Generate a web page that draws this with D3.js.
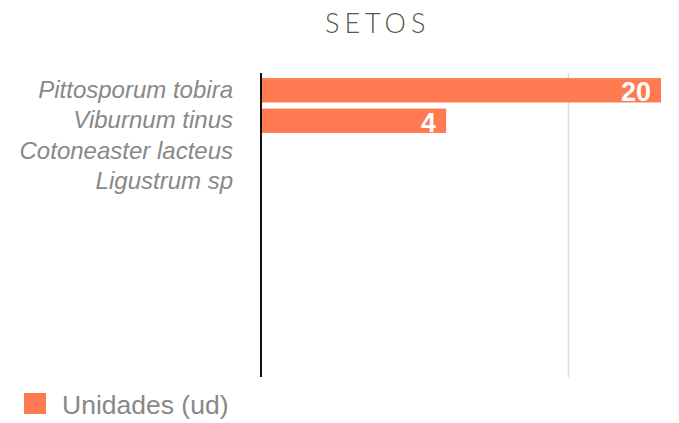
<!DOCTYPE html>
<html>
<head>
<meta charset="utf-8">
<script src="https://cdn.jsdelivr.net/npm/d3@7"></script>
<style>
  body { margin: 0; background: #fff; }
  svg { display: block; }
</style>
</head>
<body>
<svg id="chart"></svg>
<script>
// datos
const species = ['Pittosporum tobira', 'Viburnum tinus', 'Cotoneaster lacteus', 'Ligustrum sp'];
const units = [20, 4, null, null];
const gridTicks = [10];
const seriesName = 'Unidades (ud)';

const width = 679;
const height = 423;
const margin = { top: 73, right: 18, bottom: 46, left: 261 };
const barColor = '#ff7a50';

const svg = d3.select('#chart')
  .attr('width', width)
  .attr('height', height);

// titulo
svg.append('text')
  .attr('x', 325)
  .attr('y', 33)
  .attr('font-family', 'Lato, sans-serif')
  .attr('font-weight', 300)
  .attr('font-size', '27px')
  .attr('letter-spacing', '5px')
  .attr('fill', '#5e5546')
  .text('SETOS');

// escalas (log)
const x = d3.scaleLog()
  .domain([1, 20])
  .range([margin.left, 661]);

const y = d3.scaleBand()
  .domain(species)
  .range([72, 200])
  .padding(0.2);

const plotBottom = height - margin.bottom;

// rejilla
svg.append('g')
  .selectAll('line')
  .data(gridTicks)
  .join('line')
  .attr('x1', d => x(d))
  .attr('x2', d => x(d))
  .attr('y1', margin.top)
  .attr('y2', plotBottom)
  .attr('stroke', '#dcdcdc')
  .attr('stroke-width', 1.5);

// barras
const rows = species.map((s, i) => ({ name: s, value: units[i] }));

svg.append('g')
  .selectAll('rect')
  .data(rows.filter(d => d.value))
  .join('rect')
  .attr('x', x(1))
  .attr('y', d => y(d.name))
  .attr('width', d => x(d.value) - x(1))
  .attr('height', y.bandwidth())
  .attr('fill', barColor);

// valores
svg.append('g')
  .selectAll('text')
  .data(rows.filter(d => d.value))
  .join('text')
  .attr('x', d => x(d.value) - 10)
  .attr('y', d => y(d.name) + y.bandwidth() - 1)
  .attr('text-anchor', 'end')
  .attr('font-family', 'Liberation Sans, Arial, sans-serif')
  .attr('font-weight', 'bold')
  .attr('font-size', '27px')
  .attr('fill', '#fff')
  .text(d => d.value);

// eje y
const yAxis = svg.append('g')
  .attr('transform', `translate(${margin.left},0)`)
  .call(d3.axisLeft(y).tickSize(0).tickPadding(28));

yAxis.select('.domain').remove();
yAxis.selectAll('text')
  .attr('font-family', 'Liberation Sans, Arial, sans-serif')
  .attr('font-style', 'italic')
  .attr('font-size', '24px')
  .attr('fill', '#888');

svg.append('line')
  .attr('x1', margin.left)
  .attr('x2', margin.left)
  .attr('y1', margin.top)
  .attr('y2', plotBottom)
  .attr('stroke', '#111')
  .attr('stroke-width', 2);

// leyenda
const legend = svg.append('g')
  .attr('transform', 'translate(24,393)');

legend.append('rect')
  .attr('width', 22)
  .attr('height', 21)
  .attr('fill', barColor);

legend.append('text')
  .attr('x', 38)
  .attr('y', 21)
  .attr('font-family', 'Liberation Sans, Arial, sans-serif')
  .attr('font-size', '26.5px')
  .attr('fill', '#888')
  .text(seriesName);
</script>
</body>
</html>
